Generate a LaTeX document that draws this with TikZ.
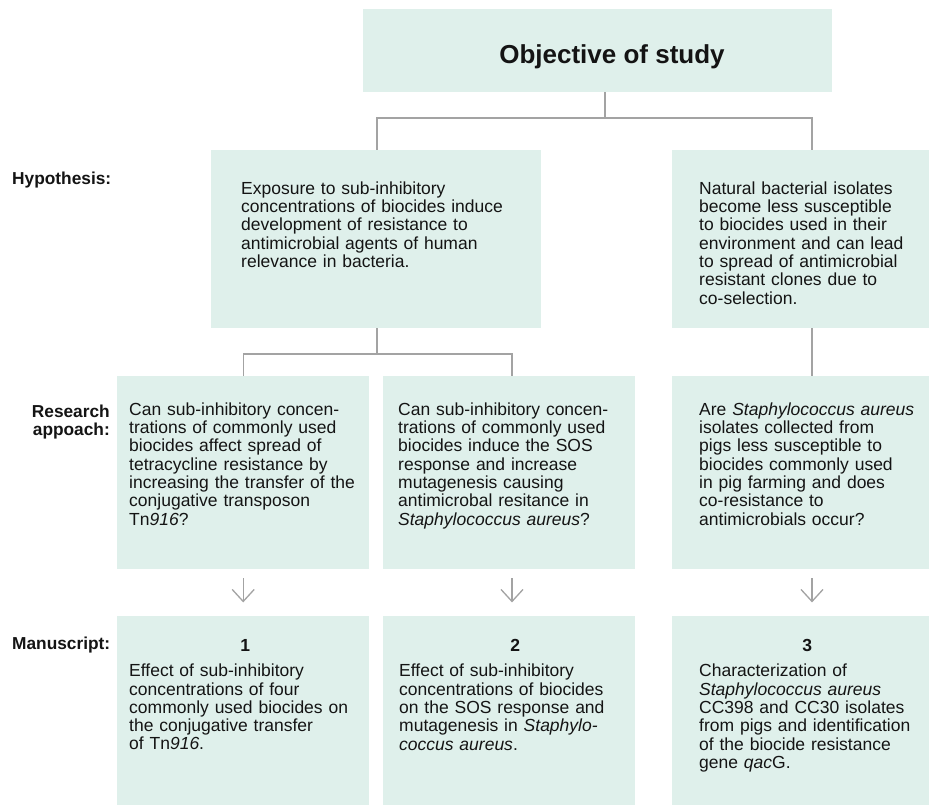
\documentclass[tikz,border=0pt]{standalone}
\usepackage{fontspec}
\setmainfont{Liberation Sans}
\usetikzlibrary{arrows.meta}
\definecolor{boxc}{HTML}{DFF0EB}
\definecolor{linec}{HTML}{A3A3A3}
\definecolor{txt}{HTML}{141414}
\begin{document}
\begin{tikzpicture}[x=1pt,y=-1pt,
  box/.style={fill=boxc, draw=none, inner sep=0pt, anchor=north west},
  body/.style={anchor=north west, inner sep=0pt, align=left, font=\fontsize{17.5}{18.3}\selectfont, text=txt},
  lab/.style={inner sep=0pt, font=\bfseries\fontsize{17.3}{18.3}\selectfont, text=txt},
  conn/.style={draw=linec, line width=1.3pt},
  arr/.style={conn, -{Straight Barb[length=12pt,width=22pt,line width=1.3pt]}}
]
\useasboundingbox (0,0) rectangle (929,805);
\fill[white] (0,0) rectangle (929,805);

% boxes
\node[box, minimum width=469pt, minimum height=83pt] (top) at (363,9) {};
\node[box, minimum width=330pt, minimum height=178pt] (h1) at (211,150) {};
\node[box, minimum width=257pt, minimum height=178pt] (h2) at (672,150) {};
\node[box, minimum width=252pt, minimum height=193pt] (r1) at (117,376) {};
\node[box, minimum width=252pt, minimum height=193pt] (r2) at (383,376) {};
\node[box, minimum width=257pt, minimum height=193pt] (r3) at (672,376) {};
\node[box, minimum width=252pt, minimum height=189pt] (m1) at (117,616) {};
\node[box, minimum width=252pt, minimum height=189pt] (m2) at (383,616) {};
\node[box, minimum width=257pt, minimum height=189pt] (m3) at (672,616) {};

% connector positions
\coordinate (j1) at (605,118);
\coordinate (j2) at (377,354);
\coordinate (ax2) at (512,0);
\coordinate (ax3) at (812,0);

\draw[conn] (top.south -| j1) -- (j1);
\draw[conn] (h1.north -| j2) |- (j1) -| (h2.north -| ax3);
\draw[conn] (h1.south -| j2) -- (j2);
\draw[conn] (r1.north) |- (j2) -| (r2.north -| ax2);
\draw[conn] (h2.south -| ax3) -- (r3.north -| ax3);

\draw[arr] (r1.south) ++(0,9) -- ++(0,24);
\draw[arr] (r2.south -| ax2) ++(0,9) -- ++(0,24);
\draw[arr] (r3.south -| ax3) ++(0,9) -- ++(0,24);

% title
\node[anchor=base, inner sep=0pt, text=txt, font=\bfseries\fontsize{26}{30}\selectfont] (title) at (612,63.3) {Objective of study};

% row labels
\node[lab, anchor=base west] (lhyp) at (12,184.5) {Hypothesis:};
\node[lab, anchor=north east, align=right] (lres) at (110,404.5) {Research\\appoach:};
\node[lab, anchor=base west] (lman) at (12,649.5) {Manuscript:};

% hypothesis texts
\node[body, text width=295pt] (th1) at (241,181.5) {Exposure to sub-inhibitory\\concentrations of biocides induce\\development of resistance to\\antimicrobial agents of human\\relevance in bacteria.};
\node[body, text width=225pt] (th2) at (699,181.5) {Natural bacterial isolates\\become less susceptible\\to biocides used in their\\environment and can lead\\to spread of antimicrobial\\resistant clones due to\\co-selection.};

% research texts
\node[body, text width=232pt] (tr1) at (129,402.5) {Can sub-inhibitory concen-\\trations of commonly used\\biocides affect spread of\\tetracycline resistance by\\increasing the transfer of the\\conjugative transposon\\Tn\textit{916}?};
\node[body, text width=232pt] (tr2) at (398,402.5) {Can sub-inhibitory concen-\\trations of commonly used\\biocides induce the SOS\\response and increase\\mutagenesis causing\\antimicrobal resitance in\\\textit{Staphylococcus aureus}?};
\node[body, text width=225pt] (tr3) at (699,402.5) {Are \textit{Staphylococcus aureus}\\isolates collected from\\pigs less susceptible to\\biocides commonly used\\in pig farming and does\\co-resistance to\\antimicrobials occur?};

% manuscript texts
\node[body, text width=232pt] (tm1) at (129,639) {\makebox[\linewidth]{\textbf{1}}\\[7.2pt]Effect of sub-inhibitory\\concentrations of four\\commonly used biocides on\\the conjugative transfer\\of Tn\textit{916}.};
\node[body, text width=232pt] (tm2) at (399,639) {\makebox[\linewidth]{\textbf{2}}\\[7.2pt]Effect of sub-inhibitory\\concentrations of biocides\\on the SOS response and\\mutagenesis in \textit{Staphylo-}\\\textit{coccus aureus}.};
\node[body, text width=216pt] (tm3) at (699,639) {\makebox[\linewidth]{\textbf{3}}\\[7.2pt]Characterization of\\\textit{Staphylococcus aureus}\\CC398 and CC30 isolates\\from pigs and identification\\of the biocide resistance\\gene \textit{qac}G.};
\end{tikzpicture}
\end{document}
